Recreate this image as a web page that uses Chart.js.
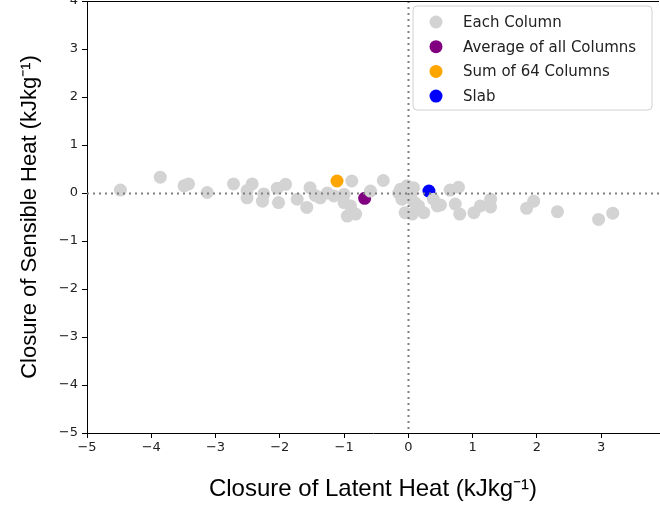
<!DOCTYPE html>
<html>
<head>
<meta charset="utf-8">
<script src="https://cdn.jsdelivr.net/npm/chart.js@4/dist/chart.umd.min.js"></script>
<style>
  html, body { margin: 0; padding: 0; background: #fff; }
  #wrap { width: 660px; height: 505px; }
</style>
</head>
<body>
<div id="wrap"><canvas id="c" width="660" height="505"></canvas></div>
<script>
// ---- data ----
const columnLatent = [-4.48,-3.86,-3.49,-3.42,-3.13,-2.72,-2.51,-2.51,-2.43,-2.25,-2.27,-2.04,-1.91,-2.02,-1.73,-1.58,-1.53,-1.45,-1.37,-1.26,-1.16,-1.0,-1.0,-0.9,-0.88,-0.95,-0.82,-0.59,-0.39,-0.15,-0.12,-0.02,0.08,-0.1,0.03,0.05,-0.05,0.06,0.1,0.16,0.24,0.39,0.45,0.5,0.65,0.78,0.73,0.8,1.02,1.12,1.28,1.28,1.84,1.95,2.32,2.96,3.18];
const columnSensible = [0.06,0.33,0.15,0.19,0.01,0.19,0.05,-0.1,0.19,-0.02,-0.17,0.1,0.18,-0.2,-0.13,-0.3,0.11,-0.05,-0.1,0.0,-0.06,-0.03,-0.2,-0.27,0.25,-0.48,-0.44,0.04,0.26,0.0,0.08,0.15,0.11,-0.13,-0.1,0.0,-0.41,-0.44,-0.2,-0.27,-0.41,-0.13,-0.27,-0.25,0.06,0.12,-0.23,-0.44,-0.41,-0.27,-0.13,-0.29,-0.32,-0.17,-0.39,-0.55,-0.42];
const averagePoint = [-0.68, -0.11];
const sumPoint = [-1.11, 0.25];
const slabPoint = [0.32, 0.04];
const seriesLabels = ["Each Column", "Average of all Columns", "Sum of 64 Columns", "Slab"];
const xTicks = [-5,-4,-3,-2,-1,0,1,2,3];
const yTicks = [-5,-4,-3,-2,-1,0,1,2,3,4];

const colors = ["#d3d3d3", "#800080", "#ffa500", "#0000ff"];

const columnPts = columnLatent.map((x, i) => ({x: x, y: columnSensible[i]}));
const toPts = p => [{x: p[0], y: p[1]}];

function ds(label, data, color) {
  return { label, data, backgroundColor: color, borderWidth: 0,
           pointRadius: 6.5, pointHoverRadius: 6.5, pointBorderWidth: 0 };
}

const refLines = {
  id: 'refLines',
  afterDatasetsDraw(chart) {
    const {ctx, chartArea: a, scales: {x, y}} = chart;
    ctx.save();
    ctx.strokeStyle = '#7f7f7f';
    ctx.lineWidth = 2;
    ctx.setLineDash([2, 4]);
    const x0 = Math.round(x.getPixelForValue(0)) + 0.5;
    const y0 = Math.round(y.getPixelForValue(0)) + 0.5;
    ctx.beginPath(); ctx.moveTo(x0, a.top); ctx.lineTo(x0, a.bottom); ctx.stroke();
    ctx.beginPath(); ctx.moveTo(a.left, y0); ctx.lineTo(a.right, y0); ctx.stroke();
    ctx.setLineDash([]);
    ctx.strokeStyle = '#000';
    ctx.lineWidth = 1;
    ctx.beginPath(); ctx.moveTo(a.left, a.top + 0.5); ctx.lineTo(a.right, a.top + 0.5); ctx.stroke();
    ctx.restore();
  }
};

const insideLegend = {
  id: 'insideLegend',
  afterDraw(chart) {
    const ctx = chart.ctx;
    const bx = 413, by = 6, bw = 239, bh = 104, r = 4;
    ctx.save();
    ctx.beginPath();
    ctx.moveTo(bx + r, by);
    ctx.arcTo(bx + bw, by, bx + bw, by + bh, r);
    ctx.arcTo(bx + bw, by + bh, bx, by + bh, r);
    ctx.arcTo(bx, by + bh, bx, by, r);
    ctx.arcTo(bx, by, bx + bw, by, r);
    ctx.closePath();
    ctx.fillStyle = 'rgba(255,255,255,0.85)';
    ctx.fill();
    ctx.strokeStyle = '#d0d0d0';
    ctx.lineWidth = 1;
    ctx.stroke();
    ctx.font = '15px "DejaVu Sans"';
    ctx.textBaseline = 'middle';
    chart.data.datasets.forEach((d, i) => {
      const yy = 22 + i * 24.7;
      ctx.beginPath();
      ctx.arc(436, yy, 6.5, 0, Math.PI * 2);
      ctx.fillStyle = d.backgroundColor;
      ctx.fill();
      ctx.fillStyle = '#222';
      ctx.fillText(d.label, 463, yy + 1);
    });
    ctx.restore();
  }
};

new Chart(document.getElementById('c'), {
  type: 'scatter',
  data: {
    datasets: [
      ds(seriesLabels[0], columnPts, colors[0]),
      ds(seriesLabels[1], toPts(averagePoint), colors[1]),
      ds(seriesLabels[2], toPts(sumPoint), colors[2]),
      ds(seriesLabels[3], toPts(slabPoint), colors[3])
    ]
  },
  options: {
    responsive: false,
    animation: false,
    events: [],
    layout: { autoPadding: false, padding: { top: 1, right: 1, left: 0, bottom: 0 } },
    plugins: { legend: { display: false }, tooltip: { enabled: false } },
    scales: {
      x: {
        type: 'linear', min: -5, max: 3.9,
        afterBuildTicks: s => { s.ticks = xTicks.map(v => ({value: v})); },
        afterFit: s => { s.height = 72; s.paddingLeft = 0; s.paddingRight = 0; },
        grid: { display: true, drawOnChartArea: false, drawTicks: true, tickLength: 5, tickColor: '#000', tickWidth: 1 },
        border: { display: true, color: '#000', width: 1 },
        ticks: { color: '#222', font: { family: 'DejaVu Sans', size: 13 }, padding: 2,
                 callback: v => String(v).replace('-', '\u2212') },
        title: { display: true, text: 'Closure of Latent Heat (kJkg\u207B\u00B9)', color: '#000',
                 font: { family: 'Liberation Sans', size: 24 }, padding: { top: 0, bottom: 1 } }
      },
      y: {
        type: 'linear', min: -5, max: 4,
        afterBuildTicks: s => { s.ticks = yTicks.map(v => ({value: v})); },
        afterFit: s => { s.width = 87; s.paddingTop = 0; s.paddingBottom = 0; },
        grid: { display: true, drawOnChartArea: false, drawTicks: true, tickLength: 5, tickColor: '#000', tickWidth: 1 },
        border: { display: true, color: '#000', width: 1 },
        ticks: { color: '#222', font: { family: 'DejaVu Sans', size: 13 }, padding: 4,
                 callback: v => String(v).replace('-', '\u2212') },
        title: { display: true, text: 'Closure of Sensible Heat (kJkg\u207B\u00B9)', color: '#000',
                 font: { family: 'Liberation Sans', size: 22 }, padding: { top: 17, bottom: 0 } }
      }
    }
  },
  plugins: [refLines, insideLegend]
});
</script>
</body>
</html>
